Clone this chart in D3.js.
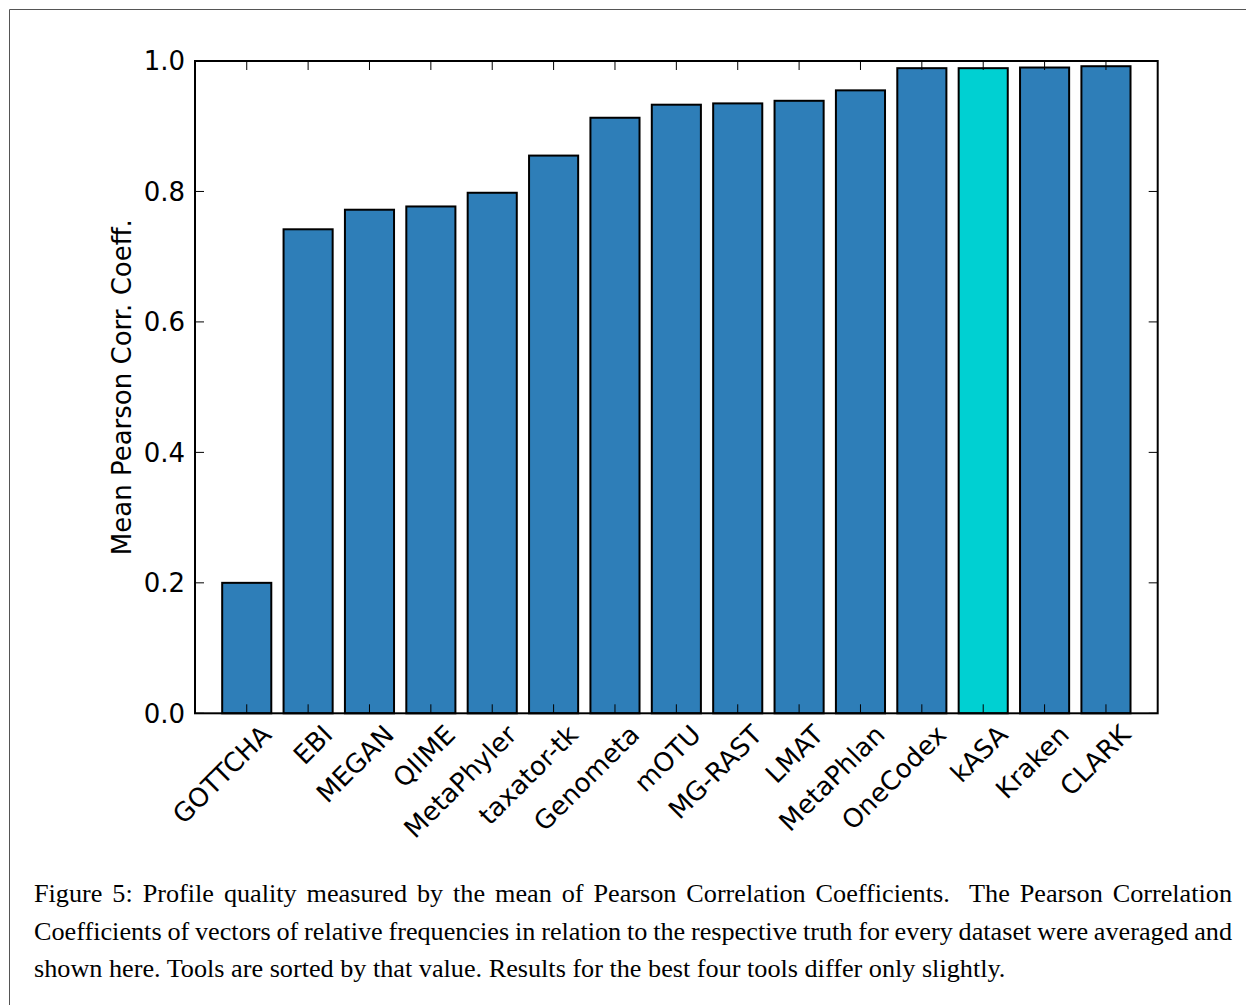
<!DOCTYPE html>
<html>
<head>
<meta charset="utf-8">
<script src="https://cdn.jsdelivr.net/npm/d3@7"></script>
<style>
  html, body { margin: 0; padding: 0; background: #fff; }
  svg { display: block; }
</style>
</head>
<body>
<svg id="chart" width="1246" height="1005"></svg>
<script>
// ---- data ----
const tools = ["GOTTCHA", "EBI", "MEGAN", "QIIME", "MetaPhyler", "taxator-tk", "Genometa",
  "mOTU", "MG-RAST", "LMAT", "MetaPhlan", "OneCodex", "kASA", "Kraken", "CLARK"];
const meanPearson = [0.200, 0.742, 0.772, 0.777, 0.798, 0.855, 0.913,
  0.933, 0.935, 0.939, 0.955, 0.989, 0.989, 0.990, 0.992];
const highlighted = ["kASA"];
const yTicks = [0.0, 0.2, 0.4, 0.6, 0.8, 1.0];
const yLabel = "Mean Pearson Corr. Coeff.";
const captionLines = [
  "Figure 5: Profile quality measured by the mean of Pearson Correlation Coefficients.  The Pearson Correlation",
  "Coefficients of vectors of relative frequencies in relation to the respective truth for every dataset were averaged and",
  "shown here. Tools are sorted by that value. Results for the best four tools differ only slightly."
];

const svg = d3.select("#chart");
const L = 195, R = 1157.7, T = 61, B = 713.3;

// page frame (left and top rule)
svg.append("line").attr("x1", 9.5).attr("x2", 9.5).attr("y1", 9.5).attr("y2", 1005)
  .attr("stroke", "#555").attr("stroke-width", 1);
svg.append("line").attr("x1", 9.5).attr("x2", 1246).attr("y1", 9.5).attr("y2", 9.5)
  .attr("stroke", "#555").attr("stroke-width", 1);

const x = d3.scaleBand().domain(tools).range([L, R]).paddingInner(0.2).paddingOuter(0.443);
const y = d3.scaleLinear().domain([0, 1]).range([B, T]);

// bars
svg.append("g").selectAll("rect").data(tools).join("rect")
  .attr("x", d => x(d))
  .attr("width", x.bandwidth())
  .attr("y", (d, i) => y(meanPearson[i]))
  .attr("height", (d, i) => y(0) - y(meanPearson[i]))
  .attr("fill", d => highlighted.includes(d) ? "#00d0d2" : "#2e7eb8")
  .attr("stroke", "#000")
  .attr("stroke-width", 2);

const tickLen = 9;
const tickStyle = sel => sel.attr("stroke", "#000").attr("stroke-width", 1);

// x ticks (inward, bottom and top)
const xt = svg.append("g");
tools.forEach(t => {
  const cx = x(t) + x.bandwidth() / 2;
  xt.append("line").attr("x1", cx).attr("x2", cx).attr("y1", B).attr("y2", B - tickLen).call(tickStyle);
  xt.append("line").attr("x1", cx).attr("x2", cx).attr("y1", T).attr("y2", T + tickLen).call(tickStyle);
});

// y ticks (inward, left and right)
const yt = svg.append("g");
yTicks.forEach(v => {
  yt.append("line").attr("x1", L).attr("x2", L + tickLen).attr("y1", y(v)).attr("y2", y(v)).call(tickStyle);
  yt.append("line").attr("x1", R).attr("x2", R - tickLen).attr("y1", y(v)).attr("y2", y(v)).call(tickStyle);
});

// spines
svg.append("rect").attr("x", L).attr("y", T).attr("width", R - L).attr("height", B - T)
  .attr("fill", "none").attr("stroke", "#000").attr("stroke-width", 2);

const font = "'DejaVu Sans', sans-serif";
const fs = 26;

// y tick labels
svg.append("g").selectAll("text").data(yTicks).join("text")
  .attr("x", L - 10)
  .attr("y", d => y(d))
  .attr("dy", "0.36em")
  .attr("text-anchor", "end")
  .attr("font-family", font)
  .attr("font-size", fs)
  .attr("fill", "#000")
  .text(d => d3.format(".1f")(d));

// x tick labels (rotated 45)
svg.append("g").selectAll("text").data(tools).join("text")
  .attr("transform", d => `translate(${x(d) + x.bandwidth() / 2 + 26},${B + 23}) rotate(-45)`)
  .attr("text-anchor", "end")
  .attr("font-family", font)
  .attr("font-size", fs)
  .attr("fill", "#000")
  .text(d => d);

// y axis label
svg.append("text")
  .attr("transform", `translate(131,${(T + B) / 2}) rotate(-90)`)
  .attr("text-anchor", "middle")
  .attr("font-family", font)
  .attr("font-size", fs)
  .attr("fill", "#000")
  .text(yLabel);

// caption
const capFont = "'Liberation Serif', 'Times New Roman', serif";
const capLeft = 34, capRight = 1232;
const baselines = [901.5, 939.5, 977];
const probe = svg.append("text").attr("font-family", capFont).attr("font-size", 25);
probe.text(captionLines[2]);
const nat3 = probe.node().getComputedTextLength();
probe.text(captionLines[1]);
const nat2 = probe.node().getComputedTextLength();
probe.remove();
const capSize = ((25 * 985 / nat3) + (25 * 1195 / nat2)) / 2;

captionLines.forEach((line, i) => {
  const t = svg.append("text")
    .attr("x", capLeft).attr("y", baselines[i])
    .attr("font-family", capFont).attr("font-size", capSize)
    .attr("fill", "#000")
    .style("white-space", "pre")
    .text(line);
  if (i < 2) {
    const w = t.node().getComputedTextLength();
    const spaces = (line.match(/ /g) || []).length;
    t.attr("word-spacing", (capRight - capLeft - w) / spaces);
  }
});
</script>
</body>
</html>
